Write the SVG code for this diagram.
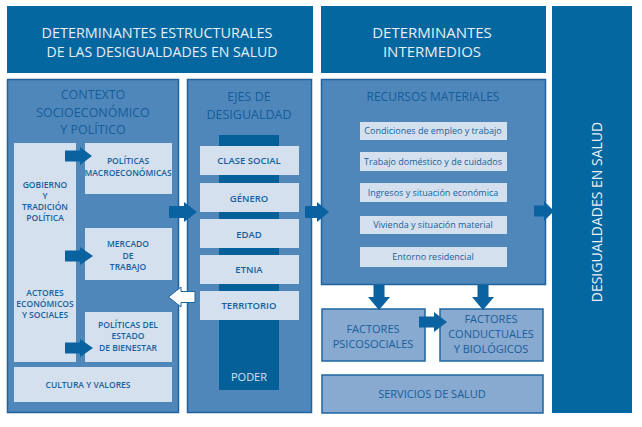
<svg xmlns="http://www.w3.org/2000/svg" width="642" height="427" viewBox="0 0 642 427">
<style>
text{font-family:"Open Sans","Noto Sans","Liberation Sans",sans-serif;text-anchor:middle}
.hdr{fill:#05679f}
.hdrt{fill:#e6eef7;font-size:15px}
.panel{fill:#4f87bb;stroke:#1e65a0;stroke-width:1.5}
.pt{fill:#155d99;font-size:12.5px}
.lt{fill:#d4e0ee}
.st{fill:#17609c;font-size:8.5px;font-weight:600}
.et{fill:#17609c;font-size:9.5px;font-weight:600}
.rt{fill:#17609c;font-size:9px}
.fb{fill:#88a9d0;stroke:#1e65a0;stroke-width:1.5}
.ft{fill:#17609c;font-size:11px}
.arr{fill:#0a62a0}
</style>
<rect width="642" height="427" fill="#ffffff"/>

<g id="hdr-estructurales">
<rect class="hdr" x="7" y="6" width="306" height="67"/>
<text class="hdrt" x="157" y="38" textLength="231" lengthAdjust="spacingAndGlyphs">DETERMINANTES ESTRUCTURALES</text>
<text class="hdrt" x="162" y="57" textLength="231" lengthAdjust="spacingAndGlyphs">DE LAS DESIGUALDADES EN SALUD</text>
</g>

<g id="hdr-intermedios">
<rect class="hdr" x="321" y="6" width="225" height="67"/>
<text class="hdrt" x="432" y="38">DETERMINANTES</text>
<text class="hdrt" x="432" y="57">INTERMEDIOS</text>
</g>

<g id="desigualdades">
<rect class="hdr" x="552" y="6" width="80" height="407"/>
<text class="hdrt" transform="translate(602,212) rotate(-90)" x="0" y="0" style="font-size:14px">DESIGUALDADES EN SALUD</text>
</g>

<g id="contexto">
<rect class="panel" x="7.5" y="79.5" width="171" height="333"/>
<text class="pt" x="93" y="99">CONTEXTO</text>
<text class="pt" x="93" y="116.5">SOCIOECONÓMICO</text>
<text class="pt" x="93" y="134">Y POLÍTICO</text>
</g>

<g id="gobierno-actores">
<rect class="lt" x="14" y="143" width="62" height="219"/>
<text class="st" x="45" y="188">GOBIERNO</text>
<text class="st" x="45" y="199">Y</text>
<text class="st" x="45" y="210">TRADICIÓN</text>
<text class="st" x="45" y="221">POLÍTICA</text>
<text class="st" x="45" y="296">ACTORES</text>
<text class="st" x="45" y="307">ECONÓMICOS</text>
<text class="st" x="45" y="318">Y SOCIALES</text>
</g>

<g id="politicas-macro">
<rect class="lt" x="85" y="143" width="87" height="51"/>
<text class="st" x="128" y="164">POLÍTICAS</text>
<text class="st" x="128" y="176">MACROECONÓMICAS</text>
</g>

<g id="mercado-trabajo">
<rect class="lt" x="85" y="228" width="87" height="52"/>
<text class="st" x="128" y="247">MERCADO</text>
<text class="st" x="128" y="259">DE</text>
<text class="st" x="128" y="270">TRABAJO</text>
</g>

<g id="politicas-bienestar">
<rect class="lt" x="85" y="312" width="87" height="50"/>
<text class="st" x="128" y="328">POLÍTICAS DEL</text>
<text class="st" x="128" y="339">ESTADO</text>
<text class="st" x="128" y="351">DE BIENESTAR</text>
</g>

<g id="cultura-valores">
<rect class="lt" x="14" y="367" width="158" height="35"/>
<text class="st" x="88" y="388">CULTURA Y VALORES</text>
</g>

<g id="ejes">
<rect class="panel" x="187.5" y="79.5" width="124" height="333"/>
<text class="pt" x="249" y="101">EJES DE</text>
<text class="pt" x="249" y="118.5">DESIGUALDAD</text>
<rect x="219" y="135" width="60" height="255" fill="#05609a"/>
<text x="249" y="381" style="fill:#d3e1f0;font-size:11px">PODER</text>
</g>

<g id="clase-social">
<rect class="lt" x="200" y="146" width="99" height="29"/>
<text class="et" x="249" y="164">CLASE SOCIAL</text>
</g>
<g id="genero">
<rect class="lt" x="200" y="183" width="99" height="29"/>
<text class="et" x="249" y="202">GÉNERO</text>
</g>
<g id="edad">
<rect class="lt" x="200" y="219" width="99" height="29"/>
<text class="et" x="249" y="238">EDAD</text>
</g>
<g id="etnia">
<rect class="lt" x="200" y="255" width="99" height="29"/>
<text class="et" x="249" y="273">ETNIA</text>
</g>
<g id="territorio">
<rect class="lt" x="200" y="291" width="99" height="29"/>
<text class="et" x="249" y="309">TERRITORIO</text>
</g>

<g id="recursos">
<rect class="panel" x="321.5" y="79.5" width="224" height="205"/>
<text class="pt" x="433" y="101" style="font-size:12px">RECURSOS MATERIALES</text>
</g>

<g id="condiciones-empleo">
<rect class="lt" x="360" y="122" width="147" height="18"/>
<text class="rt" x="433" y="134">Condiciones de empleo y trabajo</text>
</g>
<g id="trabajo-domestico">
<rect class="lt" x="360" y="152" width="147" height="19"/>
<text class="rt" x="433" y="165">Trabajo doméstico y de cuidados</text>
</g>
<g id="ingresos">
<rect class="lt" x="360" y="183" width="147" height="19"/>
<text class="rt" x="433" y="196">Ingresos y situación económica</text>
</g>
<g id="vivienda">
<rect class="lt" x="360" y="216" width="147" height="18"/>
<text class="rt" x="433" y="228">Vivienda y situación material</text>
</g>
<g id="entorno">
<rect class="lt" x="360" y="247" width="147" height="20"/>
<text class="rt" x="433" y="260">Entorno residencial</text>
</g>

<g id="factores-psicosociales">
<rect class="fb" x="322" y="309" width="103" height="52"/>
<text class="ft" x="373" y="333">FACTORES</text>
<text class="ft" x="373" y="348">PSICOSOCIALES</text>
</g>

<g id="factores-conductuales">
<rect class="fb" x="440" y="309" width="103" height="52"/>
<text class="ft" x="491" y="323">FACTORES</text>
<text class="ft" x="491" y="338">CONDUCTUALES</text>
<text class="ft" x="491" y="353">Y BIOLÓGICOS</text>
</g>

<g id="servicios-salud">
<rect class="fb" x="322" y="375" width="221" height="38"/>
<text class="ft" x="432" y="398">SERVICIOS DE SALUD</text>
</g>

<g id="connectors">
<polygon class="arr" points="65,150.5 80,150.5 80,147 92,156 80,165 80,161.5 65,161.5"/>
<polygon class="arr" points="65,250.5 80,250.5 80,247 93,256 80,265 80,261.5 65,261.5"/>
<polygon class="arr" points="65,342.5 80,342.5 80,339 93,348 80,357 80,353.5 65,353.5"/>
<polygon class="arr" points="169,206 184,206 184,202 197,212 184,222 184,218 169,218"/>
<polygon class="arr" points="305,206 317,206 317,202 329,212 317,222 317,218 305,218"/>
<polygon class="arr" points="534,205.5 544,205.5 544,201 554,211 544,221 544,216.5 534,216.5"/>
<polygon class="arr" points="373.5,285 384.5,285 384.5,297 390,297 379,310 368,297 373.5,297"/>
<polygon class="arr" points="477.5,285 488.5,285 488.5,297 494,297 483,310 472,297 477.5,297"/>
<polygon class="arr" points="419,316.5 434,316.5 434,312 447,322 434,332 434,327.5 419,327.5"/>
<polygon points="195,291.5 181,291.5 181,287 168.5,297 181,307 181,302.5 195,302.5" fill="#ffffff" stroke="#1e65a0" stroke-width="1"/>
</g>
</svg>
